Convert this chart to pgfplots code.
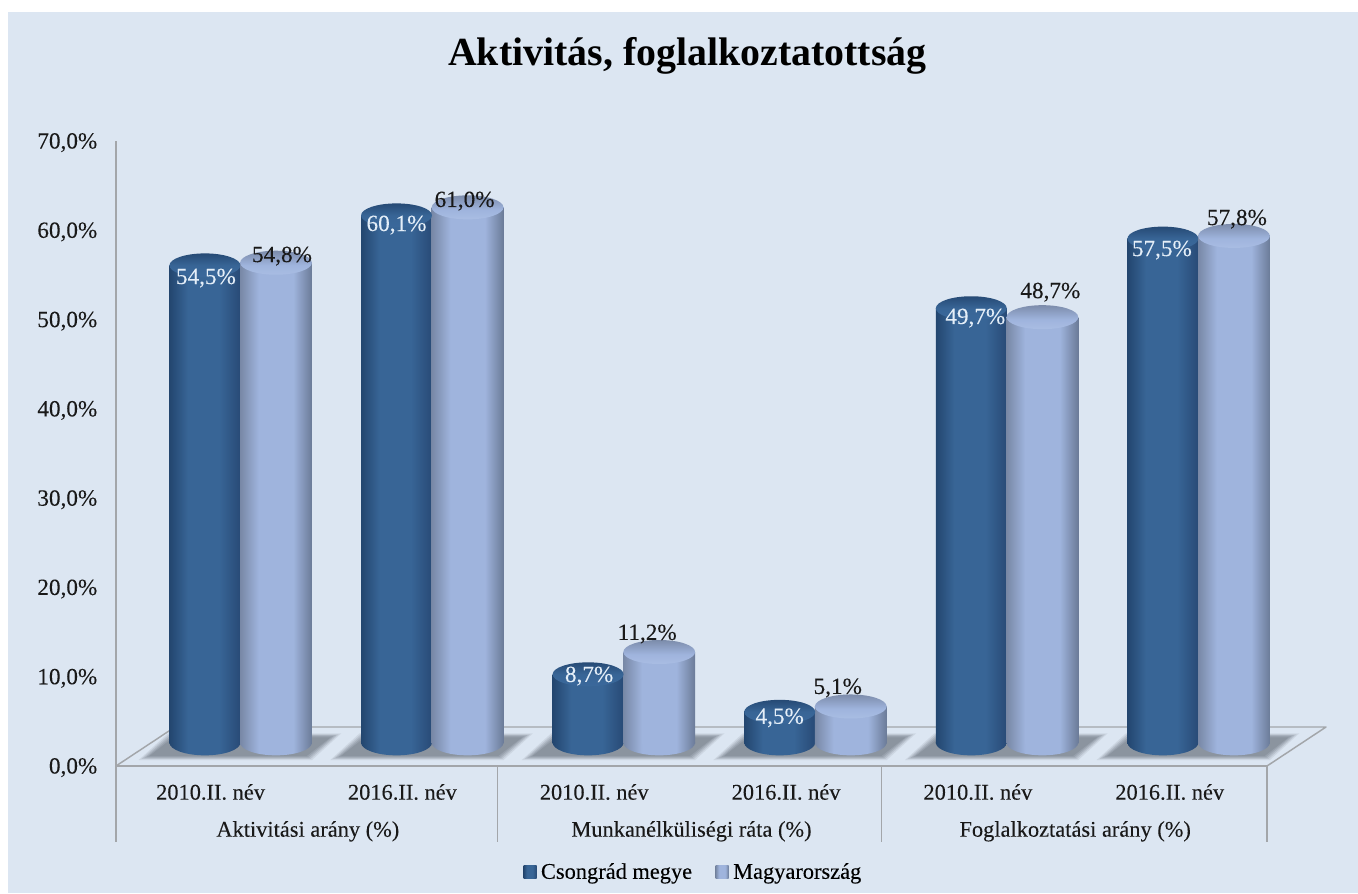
\documentclass[border=0pt]{standalone}
\usepackage{fontspec}
\setmainfont{Liberation Serif}
\newfontface\numface[FakeBold=0.12]{Liberation Serif}
\newfontface\lblface[FakeBold=0.08]{Liberation Serif}
\usepackage{pgfplots}
\usepackage{pgfplotstable}
\pgfplotsset{compat=1.18}
% 1 px of the reference = 0.75pt
\definecolor{panel}{HTML}{DCE6F2}
\definecolor{axisgrey}{HTML}{A3A6AA}
\definecolor{shadowgrey}{HTML}{727B84}
\definecolor{lbltext}{HTML}{E4EEF8}
\definecolor{bEdgeL}{HTML}{23466F}
\definecolor{bMid}{HTML}{386596}
\definecolor{bEdgeR}{HTML}{284A76}
\definecolor{lEdgeL}{HTML}{7888A6}
\definecolor{lMid}{HTML}{9FB4DD}
\definecolor{lEdgeR}{HTML}{6B7B98}
\pgfdeclarehorizontalshading{bluecyl}{100bp}{color(0bp)=(bEdgeL); color(25bp)=(bEdgeL); color(38bp)=(bMid); color(60bp)=(bMid); color(75bp)=(bEdgeR); color(100bp)=(bEdgeR)}
\pgfdeclarehorizontalshading{lightcyl}{100bp}{color(0bp)=(lEdgeL); color(25bp)=(lEdgeL); color(38bp)=(lMid); color(62bp)=(lMid); color(75bp)=(lEdgeR); color(100bp)=(lEdgeR)}
\definecolor{bTopA}{HTML}{264A75}
\definecolor{bTopB}{HTML}{3A689B}
\definecolor{lTopA}{HTML}{7C8CAB}
\definecolor{lTopB}{HTML}{A9BDE3}
\pgfdeclareverticalshading{bluetop}{100bp}{color(0bp)=(bTopB); color(25bp)=(bTopB); color(50bp)=(bMid); color(75bp)=(bTopA); color(100bp)=(bTopA)}
\pgfdeclareverticalshading{lighttop}{100bp}{color(0bp)=(lTopB); color(25bp)=(lTopB); color(45bp)=(lMid); color(75bp)=(lTopA); color(100bp)=(lTopA)}
\pgfdeclareplotmark{cylbaseb}{%
  \path[draw=none,shading=bluecyl] (0,7pt) ellipse [x radius=26.6pt, y radius=9.5pt];}
\pgfdeclareplotmark{cylbasel}{%
  \path[draw=none,shading=lightcyl] (0,7pt) ellipse [x radius=26.9pt, y radius=9.5pt];}
\pgfdeclareplotmark{cyltopb}{\path[draw=none,shading=bluetop] (0,0) ellipse [x radius=26.6pt, y radius=9pt];}
\pgfdeclareplotmark{cyltopl}{\path[draw=none,shading=lighttop] (0,0) ellipse [x radius=26.9pt, y radius=9pt];}
\pgfdeclareplotmark{floorshadow}{%
  \fill[draw=none,shadowgrey,opacity=.14] (-76pt,-6pt) -- (-54pt,14pt) -- (76pt,14pt) -- (54pt,-6pt) -- cycle;
  \fill[draw=none,shadowgrey,opacity=.2] (-74pt,-5.2pt) -- (-53pt,13.3pt) -- (74pt,13.3pt) -- (53pt,-5.2pt) -- cycle;
  \fill[draw=none,shadowgrey,opacity=.24] (-72pt,-4.5pt) -- (-52pt,12.6pt) -- (72pt,12.6pt) -- (52pt,-4.5pt) -- cycle;
  \fill[draw=none,shadowgrey,opacity=.28] (-70pt,-3.8pt) -- (-51pt,11.9pt) -- (70pt,11.9pt) -- (51pt,-3.8pt) -- cycle;
  \fill[draw=none,shadowgrey,opacity=.34] (-68pt,-3pt) -- (-50pt,11pt) -- (68pt,11pt) -- (50pt,-3pt) -- cycle;
}
\newcommand{\lblfont}{\lblface\fontsize{16.8}{18}\selectfont}
\newcommand{\numfont}{\numface\fontsize{17.4}{18}\selectfont}
\pgfplotstableread{
x y lx ly
0.817 54.5 1 -12.7
1.817 60.1 0 -9.7
2.817 8.7 1 -1.7
3.817 4.5 0 -6
4.817 49.7 4 -9.8
5.817 57.5 -1 -11.5
}\tblue
\pgfplotstableread{
x y lx ly
1.188 54.8 6 6.6
2.188 61.0 -3 6.3
3.188 11.2 -12 18
4.188 5.1 -13 18.5
5.188 48.7 8 25
6.188 57.8 3 16.8
}\tlight
\pgfplotstableread{
x y
1 0
2 0
3 0
4 0
5 0
6 0
}\tshadow
\pgfplotstableread{
x y
0.817 0
1.817 0
2.817 0
3.817 0
4.817 0
5.817 0
}\tbaseb
\pgfplotstableread{
x y
1.188 0
2.188 0
3.188 0
4.188 0
5.188 0
6.188 0
}\tbasel
\pgfplotsset{
  lblstyle/.style={
    draw=none, mark=none, forget plot,
    visualization depends on=\thisrow{lx}\as\labx,
    visualization depends on=\thisrow{ly}\as\laby,
    nodes near coords={\pgfmathprintnumber[use comma,fixed,fixed zerofill,precision=1,assume math mode=true]{\pgfplotspointmeta}\%},
    every node near coord/.append style={anchor=center,inner sep=0pt,font=\numfont,
      shift={(\labx*0.75pt,\laby*0.75pt)}},
  },
  bluebar/.style={ybar,bar shift=0pt,bar width=53.25pt,draw=none,shading=bluecyl,forget plot},
  lightbar/.style={ybar,bar shift=0pt,bar width=53.8pt,draw=none,shading=lightcyl,forget plot},
  cylaxis/.style={
    at={(36.3pt,105.75pt)}, anchor=south west,
    scale only axis, width=1005.9pt, height=468.75pt,
    xmin=0, xmax=7, ymin=0, ymax=70,
    hide axis, clip=false},
}
\begin{document}
\begin{tikzpicture}
\useasboundingbox (0,0) rectangle (1018.5pt,669.75pt);
\fill[white] (0,0) rectangle (1018.5pt,669.75pt);
\fill[panel] (6pt,0) rectangle (1018.5pt,660.75pt);
\node[font=\bfseries\fontsize{29.9}{32}\selectfont,text=black,anchor=center] at (515.5pt,627.5pt) {Aktivitás, foglalkoztatottság};
% frame, floor, category labels
\begin{axis}[
  at={(87pt,95.25pt)}, anchor=south west,
  scale only axis, width=863.25pt, height=468.75pt,
  xmin=0, xmax=6, ymin=0, ymax=70,
  axis x line*=bottom, axis y line*=left,
  axis line style={axisgrey,line width=1.1pt,-},
  clip=false,
  xtick={0.5,1.5,2.5,3.5,4.5,5.5},
  xticklabels={2010.II. név,2016.II. név,2010.II. név,2016.II. név,2010.II. név,2016.II. név},
  xticklabel style={font=\lblfont,yshift=-10pt,xshift=-1pt,text=black!90},
  major tick length=0pt,
  ytick={0,10,20,30,40,50,60,70},
  yticklabel={\pgfmathprintnumber[use comma,fixed,fixed zerofill,precision=1,assume math mode=true]{\tick}\%},
  yticklabel style={font=\numfont,xshift=-10.5pt,yshift=-1.2pt,text=black!90},
]
\draw[axisgrey,line width=1.1pt,line join=round] (axis cs:0,0) -- ++(44.25pt,29.25pt) -- ++(863.25pt,0) -- ++(-44.25pt,-29.25pt);
\draw[axisgrey,line width=1.1pt] (axis cs:0,0) -- ++(0,-57pt);
\draw[axisgrey,line width=1.1pt] (axis cs:1.99,0) -- ++(0,-57pt);
\draw[axisgrey,line width=1.1pt] (axis cs:3.99,0) -- ++(0,-57pt);
\draw[axisgrey,line width=1.1pt] (axis cs:6,0) -- ++(0,-57pt);
\node[font=\lblfont,text=black!90] at ([yshift=-49pt]axis cs:1,0) {Aktivitási arány (\%)};
\node[font=\lblfont,text=black!90] at ([yshift=-49pt]axis cs:3,0) {Munkanélküliségi ráta (\%)};
\node[font=\lblfont,text=black!90] at ([yshift=-49pt]axis cs:5,0) {Foglalkoztatási arány (\%)};
\end{axis}
% floor shadows and cylinder bases
\begin{axis}[cylaxis]
\addplot[only marks,mark=floorshadow,forget plot] table[x=x,y=y] {\tshadow};
\addplot[only marks,mark=cylbaseb,forget plot] table[x=x,y=y] {\tbaseb};
\addplot[only marks,mark=cylbasel,forget plot] table[x=x,y=y] {\tbasel};
\end{axis}
% cylinder bodies, cut off at the level of the bases
\begin{axis}[
  at={(36.3pt,112.45pt)}, anchor=south west,
  scale only axis, width=1005.9pt, height=462.05pt,
  xmin=0, xmax=7, ymin=1, ymax=70,
  hide axis, clip=true]
\addplot[bluebar] coordinates {(0.817,54.5)};
\addplot[bluebar] coordinates {(1.817,60.1)};
\addplot[bluebar] coordinates {(2.817,8.7)};
\addplot[bluebar] coordinates {(3.817,4.5)};
\addplot[bluebar] coordinates {(4.817,49.7)};
\addplot[bluebar] coordinates {(5.817,57.5)};
\addplot[lightbar] coordinates {(1.188,54.8)};
\addplot[lightbar] coordinates {(2.188,61.0)};
\addplot[lightbar] coordinates {(3.188,11.2)};
\addplot[lightbar] coordinates {(4.188,5.1)};
\addplot[lightbar] coordinates {(5.188,48.7)};
\addplot[lightbar] coordinates {(6.188,57.8)};
\end{axis}
% cylinder tops, value labels, legend
\begin{axis}[cylaxis,
  legend style={at={(0.4807,-0.192)},anchor=center,draw=none,fill=none,font=\lblfont,
    legend columns=2,/tikz/every even column/.style={column sep=16.65pt},
    inner sep=0pt, nodes={inner sep=1pt}},
]
\addplot[only marks,mark=cyltopb,forget plot] table[x=x,y=y] {\tblue};
\addplot[only marks,mark=cyltopl,forget plot] table[x=x,y=y] {\tlight};
\addplot[lblstyle,every node near coord/.append style={text=lbltext}] table[x=x,y=y] {\tblue};
\addplot[lblstyle,every node near coord/.append style={text=black!90}] table[x=x,y=y] {\tlight};
\addlegendimage{legend image code/.code={\path[draw=none,shading=bluecyl] (0,-4.9pt) rectangle ++(9.75pt,9.8pt); \path[draw=none] (12pt,0) circle (0.1pt);}}
\addlegendentry{Csongrád megye}
\addlegendimage{legend image code/.code={\path[draw=none,shading=lightcyl] (0,-4.9pt) rectangle ++(9.75pt,9.8pt); \path[draw=none] (12pt,0) circle (0.1pt);}}
\addlegendentry{Magyarország}
\end{axis}
\end{tikzpicture}
\end{document}
